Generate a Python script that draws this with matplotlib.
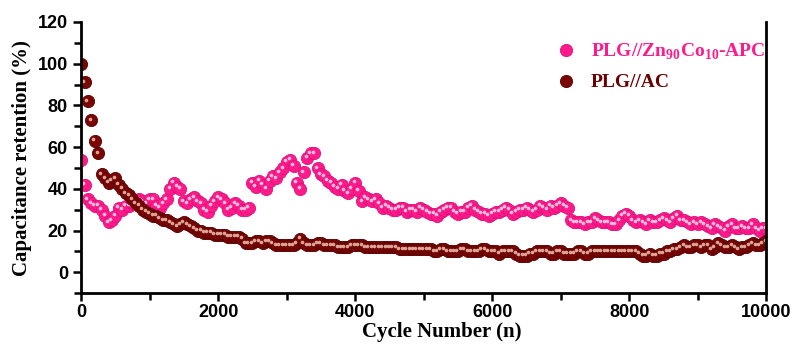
import matplotlib
matplotlib.use('Agg')
import matplotlib.pyplot as plt
from matplotlib.transforms import offset_copy
from matplotlib.ticker import MultipleLocator

# Ciclos a cada 50
cycles = list(range(0, 10001, 50))

# PLG//Zn90Co10-APC (%), uma linha por 1000 ciclos
apc = [54, 42, 35, 33, 32, 32, 30, 27, 24, 25, 27, 31, 30, 32, 32, 33, 34, 35, 34, 33,
       35, 35, 32, 31, 33, 35, 40, 43, 41, 40, 34, 33, 35, 36, 34, 33, 30, 29, 32, 34,
       36, 35, 33, 30, 31, 33, 32, 30, 30, 31, 43, 41, 44, 42, 40, 44, 46, 45, 48, 50,
       53, 54, 51, 43, 40, 48, 55, 57, 57, 50, 47, 46, 44, 43, 41, 40, 42, 39, 38, 40,
       43, 39, 34, 36, 35, 34, 35, 33, 31, 32, 31, 30, 30, 31, 31, 29, 30, 30, 29, 31,
       30, 29, 28, 28, 27, 29, 30, 31, 31, 29, 28, 29, 29, 31, 32, 30, 29, 28, 28, 27,
       28, 29, 29, 30, 31, 30, 28, 29, 30, 30, 31, 30, 29, 30, 32, 31, 30, 32, 31, 32,
       33, 32, 31, 25, 24, 24, 24, 23, 24, 24, 26, 25, 24, 24, 24, 23, 23, 25, 27, 28,
       27, 25, 24, 25, 24, 23, 25, 24, 24, 25, 26, 25, 24, 26, 27, 25, 25, 24, 23, 24,
       23, 24, 23, 22, 21, 23, 22, 21, 20, 22, 23, 21, 21, 22, 21, 21, 23, 21, 20, 21,
       21]

# PLG//AC (%)
ac = [100, 91, 82, 73, 63, 57, 47, 45, 43, 44, 45, 42, 40, 38, 37, 35, 33, 32, 30, 29,
      28, 27, 27, 26, 25, 25, 24, 23, 22, 23, 24, 23, 22, 21, 20, 20, 19, 19, 19, 18,
      18, 18, 18, 17, 17, 17, 17, 16, 14, 14, 14, 15, 15, 14, 15, 15, 14, 13, 13, 13,
      13, 13, 13, 14, 16, 14, 13, 13, 13, 14, 14, 13, 13, 13, 13, 12, 12, 12, 12, 13,
      13, 13, 13, 12, 12, 12, 12, 12, 12, 12, 12, 12, 12, 11, 11, 11, 11, 11, 11, 11,
      11, 11, 11, 10, 10, 11, 11, 10, 10, 10, 10, 11, 11, 10, 10, 10, 10, 11, 11, 10,
      10, 10, 9, 10, 10, 10, 10, 9, 8, 8, 8, 9, 9, 10, 10, 10, 10, 9, 9, 10,
      10, 9, 9, 9, 9, 10, 10, 9, 9, 10, 10, 10, 10, 10, 10, 10, 10, 10, 10, 10,
      10, 10, 10, 9, 8, 8, 9, 8, 8, 9, 9, 10, 10, 11, 11, 12, 13, 12, 12, 13,
      13, 12, 13, 13, 11, 12, 14, 13, 12, 12, 13, 12, 11, 12, 12, 13, 14, 13, 13, 14,
      15]

labels = ['PLG//Zn$_{\\mathbf{90}}$Co$_{\\mathbf{10}}$-APC', 'PLG//AC']
colors = ['#ff1a8c', '#7a0505']
edges = ['#e0107a', '#5a0000']
shines = ['#ffd0e6', '#e8b8a8']

plt.rcParams['mathtext.fontset'] = 'custom'
plt.rcParams['mathtext.rm'] = 'Liberation Serif:bold'
plt.rcParams['mathtext.bf'] = 'Liberation Serif:bold'

fig = plt.figure(figsize=(7.95, 3.49), dpi=100)
ax = fig.add_axes([0.102, 0.16, 0.862, 0.777])

shine_tr = offset_copy(ax.transData, fig=fig, x=-1.5, y=1.5, units='dots')

handles = []
for vals, c, e, s, lab in zip([apc, ac], colors, edges, shines, labels):
    h, = ax.plot(cycles, vals, 'o', ms=8.8, mfc=c, mec=e, mew=0.6, label=lab)
    ax.plot(cycles, vals, 'o', ms=2.6, mfc=s, mec='none', alpha=0.9,
            transform=shine_tr)
    handles.append(h)

ax.set_xlim(0, 10000)
ax.set_ylim(-10, 120)
ax.xaxis.set_major_locator(MultipleLocator(2000))
ax.xaxis.set_minor_locator(MultipleLocator(1000))
ax.yaxis.set_major_locator(MultipleLocator(20))
ax.yaxis.set_minor_locator(MultipleLocator(10))

ax.spines['top'].set_visible(False)
for sp in ['left', 'bottom', 'right']:
    ax.spines[sp].set_linewidth(2)
ax.tick_params(which='major', direction='out', length=6, width=1.8,
               top=False, right=False)
ax.tick_params(which='minor', direction='out', length=5, width=1.8,
               top=False, right=False)
ax.tick_params(axis='x', which='major', pad=2)
for t in ax.get_xticklabels() + ax.get_yticklabels():
    t.set_fontfamily('Liberation Sans')
    t.set_fontweight('bold')
    t.set_fontsize(13)

ax.set_xlabel('Cycle Number (n)', fontfamily='Liberation Serif',
              fontweight='bold', fontsize=15)
ax.xaxis.set_label_coords(0.526, -0.108)
ax.set_ylabel('Capacitance retention (%)', fontfamily='Liberation Serif',
              fontweight='bold', fontsize=15, labelpad=4)

leg = ax.legend(handles=handles, loc='upper left', frameon=False,
                bbox_to_anchor=(0.692, 0.88), bbox_transform=fig.transFigure,
                prop={'family': 'Liberation Serif', 'weight': 'bold', 'size': 14},
                handletextpad=0.5, borderaxespad=0, borderpad=0,
                labelspacing=0.6, handlelength=1.6)
for t, c in zip(leg.get_texts(), ['#ff1a8c', '#6a0000']):
    t.set_color(c)

fig.savefig('out.png', dpi=100)
